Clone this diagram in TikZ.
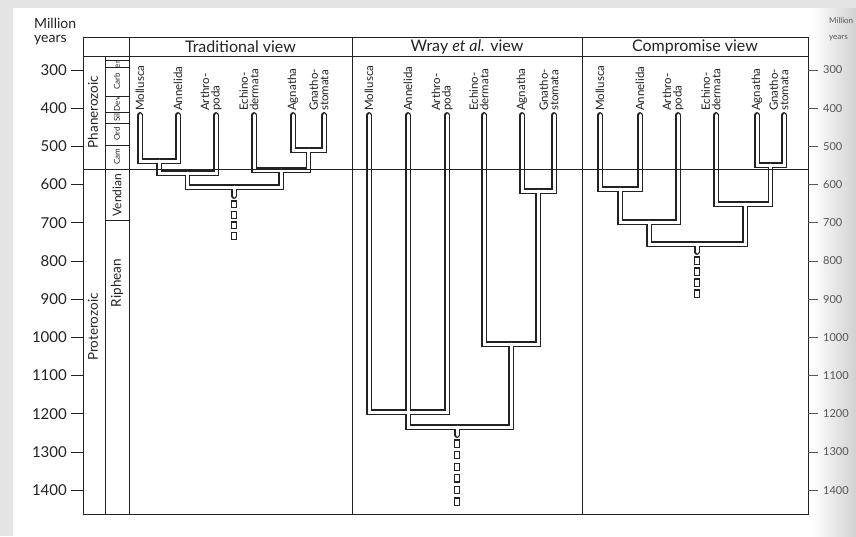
\documentclass[tikz,border=0pt]{standalone}
\usepackage{fontspec}
\setmainfont{Lato}
\usetikzlibrary{positioning}

\definecolor{ink}{HTML}{222222}
\definecolor{faint}{HTML}{555555}
\definecolor{margin}{HTML}{E4E4E4}

\tikzset{
  frame/.style={draw=ink, line width=0.9pt},
  outer/.style={draw=ink, line width=5.8pt, line cap=round},
  inner/.style={draw=white, line width=3pt, line cap=round},
  rung/.style={draw=ink, line width=1.2pt, fill=white},
  taxon/.style={rotate=90, anchor=west, align=left, inner sep=0pt, text=ink,
    font=\fontsize{11.5}{10.5}\selectfont},
  era/.style={rotate=90, inner sep=0pt, text=ink, font=\fontsize{13.5}{13.5}\selectfont},
  period/.style={rotate=90, inner sep=0pt, text=ink, font=\fontsize{8}{8}\selectfont},
  viewhead/.style={inner sep=0pt, text=ink, font=\fontsize{16}{16}\selectfont},
  agel/.style={anchor=east, inner sep=0pt, text=ink, font=\fontsize{15}{15}\selectfont},
  ager/.style={anchor=west, inner sep=0pt, text=faint, font=\fontsize{11}{11}\selectfont},
  unitl/.style={anchor=west, inner sep=0pt, text=ink, font=\fontsize{14}{14}\selectfont},
  unitr/.style={anchor=west, inner sep=0pt, text=faint, font=\fontsize{8}{8}\selectfont},
}

\begin{document}
\begin{tikzpicture}[x=1pt, y=-1pt]
\useasboundingbox (0,0) rectangle (856,536);
\clip (0,0) rectangle (856,536);
\fill[margin] (0,0) rectangle (856,536);
\fill[white] (13,8) rectangle (856,536);
\shade[left color=white, right color=black!18] (812,8) rectangle (856,536);

% frame and columns
\draw[frame] (83,37) rectangle (808,514);
\draw[frame] (83,56) -- (808,56);
\foreach \x in {129,352,582}
  \draw[frame] (\x,37) -- (\x,514);
\draw[frame] (105,56) -- (105,514);
\foreach \y in {60,67,96,112,123,145,220}
  \draw[frame] (105,\y) -- (129,\y);

% time scale, both sides
\node[unitl] (myl) at (34,23) {Million};
\node[unitl] (yrl) at (34,40) {years};
\node[unitr] (myr) at (829,21) {Million};
\node[unitr] (yrr) at (829,38) {years};
\foreach \t in {300,400,...,1400} {
  \pgfmathsetmacro\yy{70+(\t-300)*0.382}
  \draw[frame] (71,\yy) -- (83,\yy);
  \node[agel] (l\t) at (67,\yy) {\t};
  \draw[frame, draw=faint] (808,\yy) -- (818,\yy);
  \node[ager] (r\t) at (823,\yy) {\t};
}

% eras and periods
\node[era] (phan) at (93,112) {Phanerozoic};
\node[era] (prot) at (93,327) {Proterozoic};
\node[era, font=\fontsize{12}{12}\selectfont] (vend) at (117,195) {Vendian};
\node[era] (riph) at (117,283) {Riphean};
\begin{scope}
  \clip (105,60) rectangle (129,67);
  \node[period] (perm) at (117,63.5) {Perm};
\end{scope}
\node[period] (carb) at (117,81.5) {Carb};
\node[period] (dev) at (117,104) {Dev};
\node[period] (sil) at (117,117.5) {Sil};
\node[period] (ord) at (117,134) {Ord};
\node[period] (cam) at (117,157) {Cam};

% headers
\node[viewhead] (trad) at (240.5,47) {Traditional view};
\node[viewhead] (wray) at (467,47) {Wray \textit{et al.} view};
\node[viewhead] (comp) at (695,47) {Compromise view};

% traditional view
\foreach \n/\x in {moll/140,ann/178,arth/216,ech/254,agn/293,gna/324}
  \coordinate (tr-\n) at (\x,115);
\coordinate (tr-ma) at (159,161);
\coordinate (tr-ag) at (308.5,150);
\coordinate (tr-eag) at (281,170);
\coordinate (tr-maa) at (187.5,173);
\coordinate (tr-root) at (234,187);
\coordinate (tr-base) at (234,196);
\foreach \s in {outer,inner} {
  \draw[\s] (tr-moll) |- (tr-ma) -| (tr-ann);
  \draw[\s] (tr-agn) |- (tr-ag) -| (tr-gna);
  \draw[\s] (tr-ech) |- (tr-eag) -| (tr-ag);
  \draw[\s] (tr-ma) |- (tr-maa) -| (tr-arth);
  \draw[\s] (tr-maa) |- (tr-root) -| (tr-eag);
  \draw[\s] (tr-root) -- (tr-base);
}
\foreach \i in {0,...,3}
  \draw[rung] (231.2,{201+10.5*\i}) rectangle +(5.6,6.8);

% wray et al. view
\foreach \n/\x in {moll/369,ann/408,arth/447,ech/484,agn/522,gna/554}
  \coordinate (wr-\n) at (\x,115);
\coordinate (wr-ag) at (538,191);
\coordinate (wr-eag) at (511,344);
\coordinate (wr-ma) at (408,412);
\coordinate (wr-root) at (457,427);
\coordinate (wr-base) at (457,435);
\foreach \s in {outer,inner} {
  \draw[\s] (wr-agn) |- (wr-ag) -| (wr-gna);
  \draw[\s] (wr-ech) |- (wr-eag) -| (wr-ag);
  \draw[\s] (wr-moll) |- (wr-ma) -| (wr-arth);
  \draw[\s] (wr-ann) |- (wr-root) -| (wr-eag);
  \draw[\s] (wr-root) -- (wr-base);
}
\foreach \i in {0,...,5}
  \draw[rung] (454.2,{440+11.6*\i}) rectangle +(5.6,7.2);

% compromise view
\foreach \n/\x in {moll/600,ann/640,arth/678,ech/716,agn/757,gna/784}
  \coordinate (co-\n) at (\x,115);
\coordinate (co-ag) at (770.5,165);
\coordinate (co-eag) at (745,204);
\coordinate (co-ma) at (620,189);
\coordinate (co-maa) at (649,222);
\coordinate (co-root) at (697,244);
\coordinate (co-base) at (697,252);
\foreach \s in {outer,inner} {
  \draw[\s] (co-agn) |- (co-ag) -| (co-gna);
  \draw[\s] (co-ech) |- (co-eag) -| (co-ag);
  \draw[\s] (co-moll) |- (co-ma) -| (co-ann);
  \draw[\s] (co-ma) |- (co-maa) -| (co-arth);
  \draw[\s] (co-maa) |- (co-root) -| (co-eag);
  \draw[\s] (co-root) -- (co-base);
}
\foreach \i in {0,...,3}
  \draw[rung] (694.2,{257+11*\i}) rectangle +(5.6,7.2);

% taxon names
\foreach \p in {tr,wr,co}
  \foreach \n/\t/\d in {moll/Mollusca/0pt, ann/Annelida/0pt, arth/{Arthro-\\poda}/-5pt,
      ech/{Echino-\\dermata}/-5pt, agn/Agnatha/0pt, gna/{Gnatho-\\stomata}/-5pt}
    \node[taxon] (\p-l\n) at ([xshift=\d, yshift=4pt]\p-\n) {\t};

% base of the Cambrian
\draw[frame] (83,169) -- (808,169);
\end{tikzpicture}
\end{document}
